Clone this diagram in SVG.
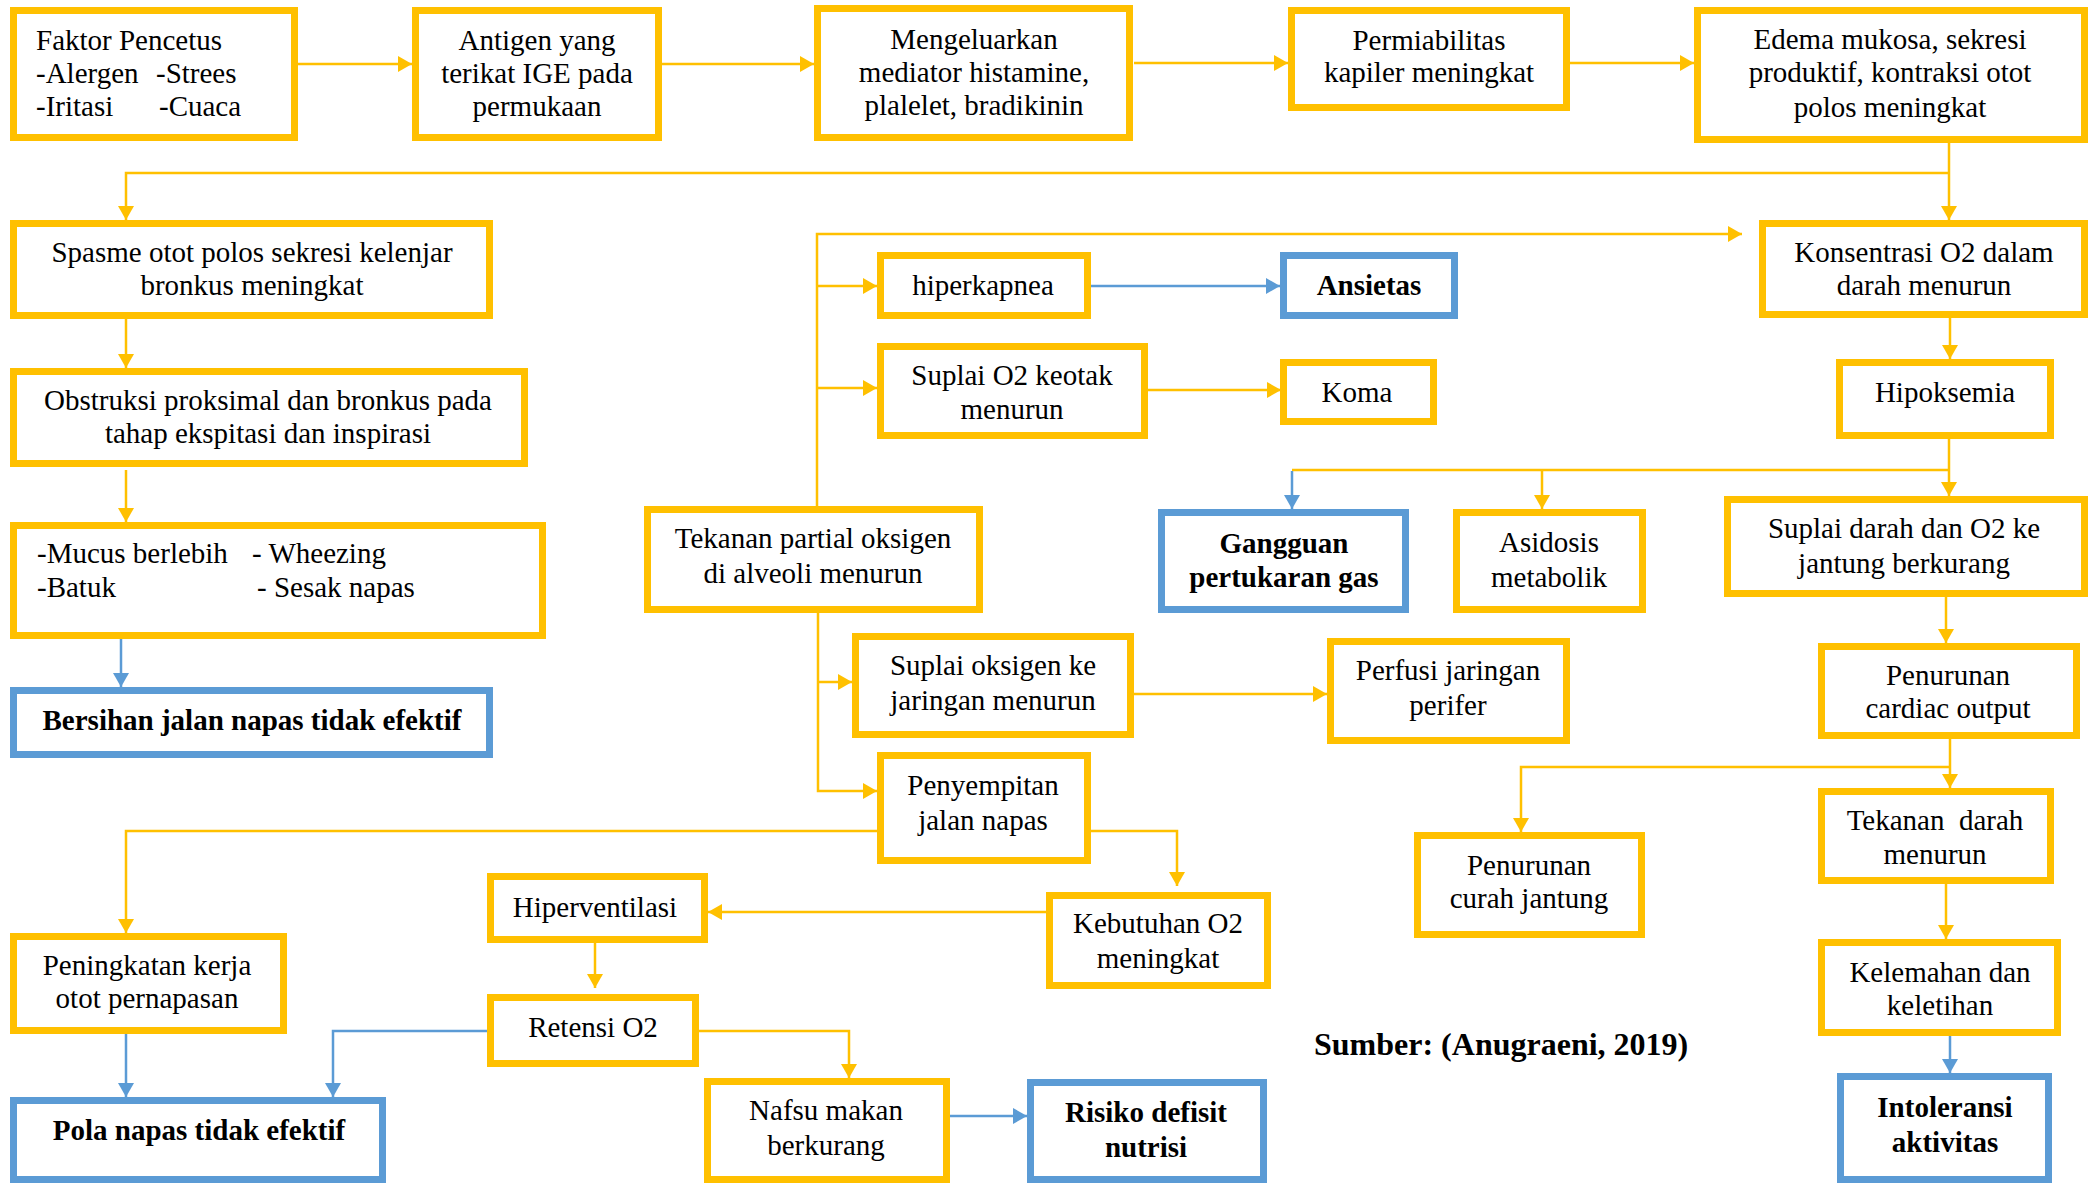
<svg xmlns="http://www.w3.org/2000/svg" width="2096" height="1183" viewBox="0 0 2096 1183">
<defs>
<style>
.y{fill:#fff;stroke:#FFC000;stroke-width:7}
.b{fill:#fff;stroke:#5B9BD5;stroke-width:7}
.t{font-family:"Liberation Serif","Times New Roman",serif;font-size:29px;fill:#000;text-anchor:middle;white-space:pre}
.l{text-anchor:start}
.bd{font-weight:bold}
.cy{fill:none;stroke:#FFC000;stroke-width:2.5}
.cb{fill:none;stroke:#5B9BD5;stroke-width:2.5}
</style>
<marker id="ay" viewBox="0 0 14 16" refX="14" refY="8" markerWidth="14" markerHeight="16" markerUnits="userSpaceOnUse" orient="auto"><path d="M0,0 L14,8 L0,16 z" fill="#FFC000"/></marker>
<marker id="ab" viewBox="0 0 14 16" refX="14" refY="8" markerWidth="14" markerHeight="16" markerUnits="userSpaceOnUse" orient="auto"><path d="M0,0 L14,8 L0,16 z" fill="#5B9BD5"/></marker>
</defs>
<rect width="2096" height="1183" fill="#fff"/>
<g id="connectors">
<path class="cy" d="M298,64 H412" marker-end="url(#ay)"/>
<path class="cy" d="M662,64 H814" marker-end="url(#ay)"/>
<path class="cy" d="M1134,63 H1288" marker-end="url(#ay)"/>
<path class="cy" d="M1570,63 H1694" marker-end="url(#ay)"/>
<path class="cy" d="M1949,143 V220" marker-end="url(#ay)"/>
<path class="cy" d="M1949,173 H126 V220" marker-end="url(#ay)"/>
<path class="cy" d="M126,319 V368" marker-end="url(#ay)"/>
<path class="cy" d="M126,470 V522" marker-end="url(#ay)"/>
<path class="cb" d="M121,639 V687" marker-end="url(#ab)"/>
<path class="cy" d="M817,506 V234 H1742" marker-end="url(#ay)"/>
<path class="cy" d="M817,286 H877" marker-end="url(#ay)"/>
<path class="cy" d="M817,388 H877" marker-end="url(#ay)"/>
<path class="cb" d="M1091,286 H1280" marker-end="url(#ab)"/>
<path class="cy" d="M1148,390 H1281" marker-end="url(#ay)"/>
<path class="cy" d="M1950,318 V359" marker-end="url(#ay)"/>
<path class="cy" d="M1949,439 V496" marker-end="url(#ay)"/>
<path class="cy" d="M1949,470 H1292"/>
<path class="cy" d="M1542,470 V509" marker-end="url(#ay)"/>
<path class="cb" d="M1292,471 V509" marker-end="url(#ab)"/>
<path class="cy" d="M1946,597 V643" marker-end="url(#ay)"/>
<path class="cy" d="M818,613 V791 H877" marker-end="url(#ay)"/>
<path class="cy" d="M818,682 H852" marker-end="url(#ay)"/>
<path class="cy" d="M1134,694 H1327" marker-end="url(#ay)"/>
<path class="cy" d="M1950,739 V788" marker-end="url(#ay)"/>
<path class="cy" d="M1950,767 H1521 V832" marker-end="url(#ay)"/>
<path class="cy" d="M1946,884 V939" marker-end="url(#ay)"/>
<path class="cb" d="M1950,1036 V1073" marker-end="url(#ab)"/>
<path class="cy" d="M877,831 H126 V933" marker-end="url(#ay)"/>
<path class="cy" d="M1091,831 H1177 V886" marker-end="url(#ay)"/>
<path class="cy" d="M1046,912 H708" marker-end="url(#ay)"/>
<path class="cy" d="M595,943 V988" marker-end="url(#ay)"/>
<path class="cb" d="M126,1034 V1097" marker-end="url(#ab)"/>
<path class="cb" d="M487,1031 H333 V1097" marker-end="url(#ab)"/>
<path class="cy" d="M699,1031 H849 V1078" marker-end="url(#ay)"/>
<path class="cb" d="M950,1116 H1027" marker-end="url(#ab)"/>
</g>
<g id="faktor"><rect class="y" x="13.5" y="10.5" width="281" height="127"/>
<text class="t l" x="36" y="50">Faktor Pencetus</text>
<text class="t l" x="36" y="83">-Alergen</text><text class="t l" x="156" y="83">-Strees</text>
<text class="t l" x="36" y="116">-Iritasi</text><text class="t l" x="159" y="116">-Cuaca</text></g>
<g id="antigen"><rect class="y" x="415.5" y="10.5" width="243" height="127"/>
<text class="t" x="537" y="50">Antigen yang</text><text class="t" x="537" y="83">terikat IGE pada</text><text class="t" x="537" y="116">permukaan</text></g>
<g id="mengeluarkan"><rect class="y" x="817.5" y="8.5" width="312" height="129"/>
<text class="t" x="974" y="49">Mengeluarkan</text><text class="t" x="974" y="82">mediator histamine,</text><text class="t" x="974" y="115">plalelet, bradikinin</text></g>
<g id="permiabilitas"><rect class="y" x="1291.5" y="10.5" width="275" height="97"/>
<text class="t" x="1429" y="50">Permiabilitas</text><text class="t" x="1429" y="82">kapiler meningkat</text></g>
<g id="edema"><rect class="y" x="1697.5" y="10.5" width="387" height="129"/>
<text class="t" x="1890" y="49">Edema mukosa, sekresi</text><text class="t" x="1890" y="82">produktif, kontraksi otot</text><text class="t" x="1890" y="117">polos meningkat</text></g>
<g id="spasme"><rect class="y" x="13.5" y="223.5" width="476" height="92"/>
<text class="t" x="252" y="262">Spasme otot polos sekresi kelenjar</text><text class="t" x="252" y="295">bronkus meningkat</text></g>
<g id="hiperkapnea"><rect class="y" x="880.5" y="255.5" width="207" height="60"/>
<text class="t" x="983" y="295">hiperkapnea</text></g>
<g id="ansietas"><rect class="b" x="1283.5" y="255.5" width="171" height="60"/>
<text class="t bd" x="1369" y="295">Ansietas</text></g>
<g id="konsentrasi"><rect class="y" x="1762.5" y="223.5" width="322" height="91"/>
<text class="t" x="1924" y="262">Konsentrasi O2 dalam</text><text class="t" x="1924" y="295">darah menurun</text></g>
<g id="suplai-otak"><rect class="y" x="880.5" y="346.5" width="264" height="89"/>
<text class="t" x="1012" y="385">Suplai O2 keotak</text><text class="t" x="1012" y="419">menurun</text></g>
<g id="koma"><rect class="y" x="1283.5" y="362.5" width="150" height="59"/>
<text class="t" x="1357" y="402">Koma</text></g>
<g id="hipoksemia"><rect class="y" x="1839.5" y="362.5" width="211" height="73"/>
<text class="t" x="1945" y="402">Hipoksemia</text></g>
<g id="obstruksi"><rect class="y" x="13.5" y="371.5" width="511" height="92"/>
<text class="t" x="268" y="410">Obstruksi proksimal dan bronkus pada</text><text class="t" x="268" y="443">tahap ekspitasi dan inspirasi</text></g>
<g id="tekanan-partial"><rect class="y" x="647.5" y="509.5" width="332" height="100"/>
<text class="t" x="813" y="548">Tekanan partial oksigen</text><text class="t" x="813" y="583">di alveoli menurun</text></g>
<g id="gangguan"><rect class="b" x="1161.5" y="512.5" width="244" height="97"/>
<text class="t bd" x="1284" y="553">Gangguan</text><text class="t bd" x="1284" y="587">pertukaran gas</text></g>
<g id="asidosis"><rect class="y" x="1456.5" y="512.5" width="186" height="97"/>
<text class="t" x="1549" y="552">Asidosis</text><text class="t" x="1549" y="587">metabolik</text></g>
<g id="suplai-darah"><rect class="y" x="1727.5" y="499.5" width="357" height="94"/>
<text class="t" x="1904" y="538">Suplai darah dan O2 ke</text><text class="t" x="1904" y="573">jantung berkurang</text></g>
<g id="mucus"><rect class="y" x="13.5" y="525.5" width="529" height="110"/>
<text class="t l" x="37" y="563">-Mucus berlebih</text><text class="t l" x="252" y="563">- Wheezing</text>
<text class="t l" x="37" y="597">-Batuk</text><text class="t l" x="257" y="597">- Sesak napas</text></g>
<g id="suplai-oksigen"><rect class="y" x="855.5" y="636.5" width="275" height="98"/>
<text class="t" x="993" y="675">Suplai oksigen ke</text><text class="t" x="993" y="710">jaringan menurun</text></g>
<g id="perfusi"><rect class="y" x="1330.5" y="641.5" width="236" height="99"/>
<text class="t" x="1448" y="680">Perfusi jaringan</text><text class="t" x="1448" y="715">perifer</text></g>
<g id="penurunan-cardiac"><rect class="y" x="1821.5" y="646.5" width="255" height="89"/>
<text class="t" x="1948" y="685">Penurunan</text><text class="t" x="1948" y="718">cardiac output</text></g>
<g id="bersihan"><rect class="b" x="13.5" y="690.5" width="476" height="64"/>
<text class="t bd" x="252" y="730">Bersihan jalan napas tidak efektif</text></g>
<g id="penyempitan"><rect class="y" x="880.5" y="755.5" width="207" height="105"/>
<text class="t" x="983" y="795">Penyempitan</text><text class="t" x="983" y="830">jalan napas</text></g>
<g id="penurunan-curah"><rect class="y" x="1417.5" y="835.5" width="224" height="99"/>
<text class="t" x="1529" y="875">Penurunan</text><text class="t" x="1529" y="908">curah jantung</text></g>
<g id="tekanan-darah"><rect class="y" x="1821.5" y="791.5" width="229" height="89"/>
<text class="t" x="1935" y="830">Tekanan  darah</text><text class="t" x="1935" y="864">menurun</text></g>
<g id="hiperventilasi"><rect class="y" x="490.5" y="876.5" width="214" height="63"/>
<text class="t" x="595" y="917">Hiperventilasi</text></g>
<g id="kebutuhan"><rect class="y" x="1049.5" y="895.5" width="218" height="90"/>
<text class="t" x="1158" y="933">Kebutuhan O2</text><text class="t" x="1158" y="968">meningkat</text></g>
<g id="peningkatan"><rect class="y" x="13.5" y="936.5" width="270" height="94"/>
<text class="t" x="147" y="975">Peningkatan kerja</text><text class="t" x="147" y="1008">otot pernapasan</text></g>
<g id="retensi"><rect class="y" x="490.5" y="997.5" width="205" height="66"/>
<text class="t" x="593" y="1037">Retensi O2</text></g>
<g id="kelemahan"><rect class="y" x="1821.5" y="942.5" width="236" height="90"/>
<text class="t" x="1940" y="982">Kelemahan dan</text><text class="t" x="1940" y="1015">keletihan</text></g>
<g id="nafsu"><rect class="y" x="707.5" y="1081.5" width="239" height="98"/>
<text class="t" x="826" y="1120">Nafsu makan</text><text class="t" x="826" y="1155">berkurang</text></g>
<g id="risiko"><rect class="b" x="1030.5" y="1082.5" width="233" height="97"/>
<text class="t bd" x="1146" y="1122">Risiko defisit</text><text class="t bd" x="1146" y="1157">nutrisi</text></g>
<g id="pola"><rect class="b" x="13.5" y="1100.5" width="369" height="79"/>
<text class="t bd" x="199" y="1140">Pola napas tidak efektif</text></g>
<g id="intoleransi"><rect class="b" x="1840.5" y="1076.5" width="208" height="103"/>
<text class="t bd" x="1945" y="1117">Intoleransi</text><text class="t bd" x="1945" y="1152">aktivitas</text></g>
<text class="t l bd" x="1314" y="1055" style="font-size:32px">Sumber: (Anugraeni, 2019)</text>
</svg>
